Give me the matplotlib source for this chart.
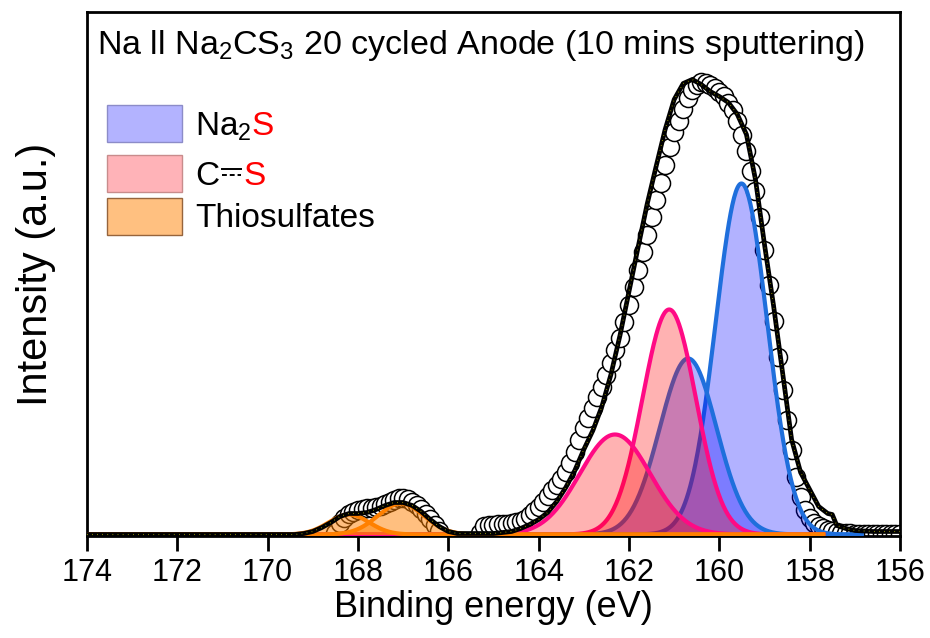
import numpy as np
import matplotlib
matplotlib.use('Agg')
import matplotlib.pyplot as plt
from matplotlib.patches import Rectangle
from matplotlib.lines import Line2D

plt.rcParams['font.family'] = ['Liberation Sans', 'DejaVu Sans']
plt.rcParams['mathtext.default'] = 'regular'

# measured S 2p spectrum, one point every 0.1 eV from 168.7 eV down to 156.0 eV
be_start = 168.7
counts = [
    -14, -10, 2, 12, 17, 21, 23, 25, 26, 27,          # 168.7 - 167.8
    27, 28, 29, 31, 33, 35, 37, 37, 36, 33,           # 167.7 - 166.8
    30, 26, 21, 16, 10, 4, -6, -12, -14, -14,         # 166.7 - 165.8
    -14, -14, -12, -6, 2, 9, 10, 10, 11, 11,          # 165.7 - 164.8
    11, 12, 13, 14, 16, 20, 24, 28, 33, 39,           # 164.7 - 163.8
    45, 50, 56, 63, 72, 83, 95, 107, 117, 127,        # 163.7 - 162.8
    138, 148, 160, 172, 185, 197, 213, 230, 248, 265, # 162.7 - 161.8
    283, 300, 318, 335, 352, 370, 388, 403, 414, 426, # 161.7 - 160.8
    437, 445, 450, 453, 452, 450, 447, 443, 439, 432, # 160.7 - 159.8
    425, 414, 400, 384, 364, 344, 318, 285, 250, 214, # 159.7 - 158.8
    178, 145, 115, 85, 58, 38, 25, 17, 12, 9,         # 158.7 - 157.8
    7, 5, 4, 3, 2, 2, 2, 1, 1, 1,                     # 157.7 - 156.8
    1, 1, 1, 1, 1, 1, 1, 1,                           # 156.7 - 156.0
]
be = be_start - 0.1 * np.arange(len(counts))

# fitted envelope
env_be = [174.0, 169.4, 169.2, 169.0, 168.8, 168.6, 168.4, 168.2, 168.0, 167.8,
          167.6, 167.4, 167.2, 167.0, 166.8, 166.6, 166.4, 166.2, 166.0, 165.8,
          165.6, 165.4, 165.2, 165.0, 164.8, 164.6, 164.4, 164.2, 164.0, 163.8,
          163.6, 163.4, 163.2, 163.0, 162.8, 162.6, 162.4, 162.2, 162.0, 161.8,
          161.6, 161.4, 161.2, 161.0, 160.8, 160.6, 160.4, 160.2, 160.0, 159.8,
          159.6, 159.4, 159.2, 159.0, 158.8, 158.6, 158.4, 158.2, 158.0, 157.8,
          157.6, 157.5, 157.4, 157.2, 157.0, 156.6, 156.0]
env_h = [0, 0, 1, 3, 7, 12, 18, 21, 21, 22,
         25, 29, 32, 32, 29, 23, 15, 8, 3, 1,
         1, 1, 1, 1, 2, 3, 6, 10, 15, 22,
         33, 47, 64, 85, 104, 128, 160, 199, 243, 287,
         330, 368, 405, 435, 451, 455, 450, 443, 438, 432,
         420, 400, 355, 290, 229, 162, 95, 62, 45, 28,
         21, 20, 9, 6, 4, 3, 3]

# fitted components: centre (eV), height, FWHM (eV)
na2s_centre = [159.51, 160.69]
na2s_height = [351, 176]
na2s_fwhm = [1.34, 1.48]

cs_centre = [161.11, 162.31]
cs_height = [225, 100]
cs_fwhm = [1.39, 1.84]

thio_centre = [168.2, 167.05]
thio_height = [20, 31]
thio_fwhm = [1.05, 1.2]


def peak(x, c, h, w):
    return h * np.exp(-4 * np.log(2) * (x - c) ** 2 / w ** 2)


fig = plt.figure(figsize=(9.3, 6.38), dpi=100)
ax = fig.add_axes([87 / 930, 1 - 536 / 638, 813 / 930, 524 / 638])

ax.plot(be, counts, 'o', mfc='white', mec='black', ms=13, mew=1.1, zorder=2)

x_full = np.linspace(174, 157.7, 900)
x_blue = np.linspace(174, 156.85, 900)

for c, h, w in zip(na2s_centre, na2s_height, na2s_fwhm):
    y = peak(x_blue, c, h, w)
    ax.fill_between(x_blue, 0, y, color='blue', alpha=0.3, lw=0, zorder=3)
    ax.plot(x_blue, y, color='#1f6fdc', lw=3, zorder=3)

for c, h, w in zip(cs_centre, cs_height, cs_fwhm):
    y = peak(x_full, c, h, w)
    ax.fill_between(x_full, 0, y, color='red', alpha=0.3, lw=0, zorder=3)
    ax.plot(x_full, y, color='#ff0a84', lw=3, zorder=3)

for c, h, w in zip(thio_centre, thio_height, thio_fwhm):
    y = peak(x_full, c, h, w)
    ax.fill_between(x_full, 0, y, color='#ff8000', alpha=0.5, lw=0, zorder=3)
    ax.plot(x_full, y, color='#ff8000', lw=3, zorder=3)

ax.plot(env_be, env_h, color='black', lw=3.4, zorder=6, solid_joinstyle='round')
ax.plot(env_be, env_h, color='#b8b800', lw=0.8, ls=(0, (0.6, 4)), zorder=7)

ax.set_xlim(174, 156)
ax.set_ylim(-1.5, 522.5)
ax.set_xticks(np.arange(174, 155, -2))
ax.set_yticks([])
ax.tick_params(axis='x', direction='out', length=11, width=2, labelsize=22, pad=5)
for s in ax.spines.values():
    s.set_linewidth(2)

ax.set_xlabel('Binding energy (eV)', fontsize=26, labelpad=1)
ax.set_ylabel('Intensity (a.u.)', fontsize=30, labelpad=22)

ax.text(0.0123, 0.937, 'Na ll Na$_2$CS$_3$ 20 cycled Anode (10 mins sputtering)',
        transform=ax.transAxes, fontsize=24.5, va='center', ha='left')

# legend drawn by hand (coloured S and the partial double bond)
patches = [('#b3b3ff', '#8c8cc8', 0.752), ('#ffb3b8', '#c88c8c', 0.6565),
           ('#ffc080', '#96643c', 0.5744)]
for face, edge, yb in patches:
    ax.add_patch(Rectangle((0.0246, yb), 0.0923, 0.0706, transform=ax.transAxes,
                           facecolor=face, edgecolor=edge, lw=1, zorder=8))

fig.canvas.draw()
r = fig.canvas.get_renderer()
inv = ax.transAxes.inverted()

fs = 24
t1 = ax.text(0.1328, 0.765, 'Na$_2$', transform=ax.transAxes, fontsize=fs,
             va='baseline', ha='left')
x1 = inv.transform((t1.get_window_extent(r).x1, 0))[0]
ax.text(x1, 0.765, 'S', transform=ax.transAxes, fontsize=fs, va='baseline',
        ha='left', color='red')

t2 = ax.text(0.1328, 0.670, 'C', transform=ax.transAxes, fontsize=fs,
             va='baseline', ha='left')
x2 = inv.transform((t2.get_window_extent(r).x1, 0))[0]
ax.add_line(Line2D([x2 + 0.003, x2 + 0.027], [0.700, 0.700], transform=ax.transAxes,
                   color='black', lw=1.4))
ax.add_line(Line2D([x2 + 0.003, x2 + 0.027], [0.688, 0.688], transform=ax.transAxes,
                   color='black', lw=1.4, ls=(0, (2.5, 1.5))))
ax.text(x2 + 0.030, 0.670, 'S', transform=ax.transAxes, fontsize=fs, va='baseline',
        ha='left', color='red')

ax.text(0.1328, 0.590, 'Thiosulfates', transform=ax.transAxes, fontsize=fs,
        va='baseline', ha='left')

fig.savefig('out.png', dpi=100)
